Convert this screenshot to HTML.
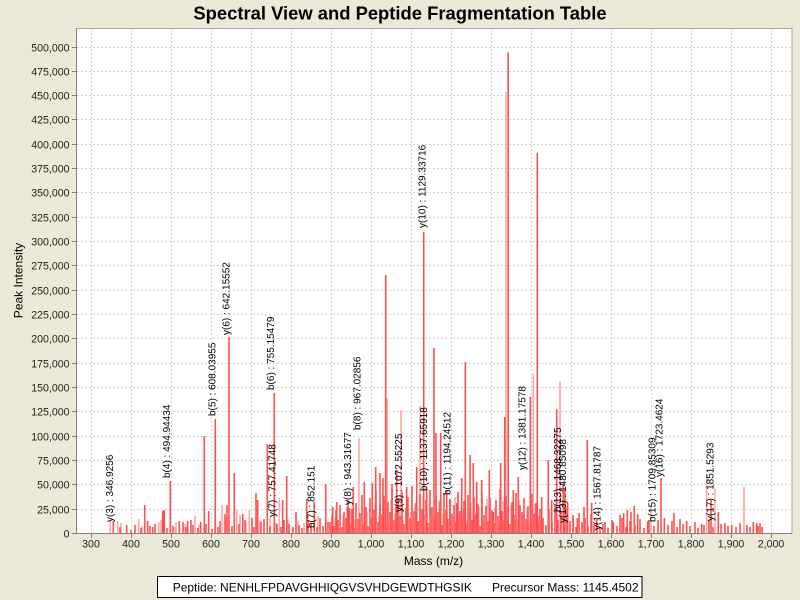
<!DOCTYPE html>
<html><head><meta charset="utf-8"><style>
html,body{margin:0;padding:0;background:#ECE9D8;}
svg{display:block;font-family:"Liberation Sans",Arial,sans-serif;}
</style></head><body>
<svg width="800" height="600" viewBox="0 0 800 600" xmlns="http://www.w3.org/2000/svg">
<rect x="0" y="0" width="800" height="600" fill="#ECE9D8"/>
<text x="400" y="19.5" text-anchor="middle" font-size="18.4" font-weight="bold" fill="#000">Spectral View and Peptide Fragmentation Table</text>
<rect x="76.5" y="28.5" width="715.5" height="505" fill="#fff" stroke="#A8A8A8" stroke-width="1"/>
<g stroke="#D4D4D4" stroke-width="1" stroke-dasharray="2,2" shape-rendering="crispEdges">
<path d="M91.5 29V533M131.5 29V533M171.5 29V533M211.5 29V533M251.5 29V533M291.5 29V533M331.5 29V533M371.5 29V533M411.5 29V533M451.5 29V533M491.5 29V533M531.5 29V533M571.5 29V533M611.5 29V533M651.5 29V533M691.5 29V533M731.5 29V533M771.5 29V533"/>
<path d="M77 509.5H791M77 484.5H791M77 460.5H791M77 436.5H791M77 411.5H791M77 387.5H791M77 363.5H791M77 338.5H791M77 314.5H791M77 290.5H791M77 265.5H791M77 241.5H791M77 217.5H791M77 192.5H791M77 168.5H791M77 144.5H791M77 119.5H791M77 95.5H791M77 71.5H791M77 47.5H791"/>
</g>
<!-- light noise -->
<g stroke="#FFA8A8" stroke-width="1.6" fill="none">
<path d="M121 533.5V523M142 533.5V526M161 533.5V520M175 533.5V527M185 533.5V524M199 533.5V525M215 533.5V521M226 533.5V518M240 533.5V515M246 533.5V522M260 533.5V520M270 533.5V517M276 533.5V523M288 533.5V519M298 533.5V521M304 533.5V523M318 533.5V516M326 533.5V520M331 533.5V525M335 533.5V518M339 533.5V528M343 533.5V515M347 533.5V522M351 533.5V510M355 533.5V520M359 533.5V508M363 533.5V525M367 533.5V512M371 533.5V519M375 533.5V503M379 533.5V516M383 533.5V507M387 533.5V522M391 533.5V500M395 533.5V514M399 533.5V506M403 533.5V520M407 533.5V498M411 533.5V512M415 533.5V505M419 533.5V521M423 533.5V496M427 533.5V513M431 533.5V508M435 533.5V519M439 533.5V500M443 533.5V514M447 533.5V506M451 533.5V523M455 533.5V497M459 533.5V515M463 533.5V509M467 533.5V520M471 533.5V502M475 533.5V516M479 533.5V507M483 533.5V521M487 533.5V499M491 533.5V513M495 533.5V508M499 533.5V522M503 533.5V501M507 533.5V517M511 533.5V505M515 533.5V519M519 533.5V500M523 533.5V514M527 533.5V508M531 533.5V521M535 533.5V504M539 533.5V516"/>
<path d="M110.3 533.5V520M117.7 533.5V521M138.7 533.5V519M158.7 533.5V522M176 533.5V522M195 533.5V516M222 533.5V505M236.7 533.5V510M249.3 533.5V510M279.3 533.5V498M359 533.5V438M387.3 533.5V398M401 533.5V410M420 533.5V406M533.3 533.5V374M560 533.5V381M651 533.5V507M706.7 533.5V474M715 533.5V489M744 533.5V487M506 533.5V92"/>
</g>
<!-- strong noise & peaks -->
<g stroke="#FF5050" stroke-width="1.6" fill="none">
<path d="M120 533.5V527M131 533.5V530M135 533.5V525M141 533.5V528M150 533.5V526M155 533.5V524M167 533.5V528M173 533.5V526M183 533.5V522M186 533.5V527M193 533.5V525M198 533.5V528M206 533.5V524M212 533.5V529M218 533.5V527M232 533.5V526M239 533.5V524M245 533.5V520M252 533.5V518M254 533.5V527M261 533.5V522M264 533.5V519M270 533.5V526M277 533.5V524M281 533.5V527M284 533.5V520M289 533.5V524M293 533.5V527M299 533.5V525M302 533.5V528M308 533.5V520M311 533.5V524M317 533.5V527M320 533.5V518M323 533.5V526M328 533.5V522"/>
<path d="M330 533.5V522M332 533.5V515M334 533.5V526M336 533.5V510M338 533.5V520M340 533.5V505M342 533.5V527M344 533.5V512M346 533.5V518M348 533.5V500M350 533.5V524M352 533.5V509M354 533.5V528M356 533.5V503M358 533.5V519M360 533.5V513M362 533.5V495M364 533.5V523M366 533.5V507M368 533.5V526M370 533.5V498M372 533.5V517M374 533.5V510M376 533.5V491M378 533.5V522M380 533.5V504M382 533.5V514M384 533.5V496M386 533.5V525M388 533.5V502M390 533.5V512M392 533.5V489M394 533.5V520M396 533.5V506M398 533.5V499M400 533.5V516M402 533.5V492M404 533.5V524M406 533.5V508M408 533.5V497M410 533.5V518M412 533.5V486M414 533.5V511M416 533.5V503M418 533.5V521M420 533.5V494M422 533.5V509M424 533.5V515M426 533.5V500M428 533.5V523M430 533.5V490M432 533.5V507M434 533.5V518M436 533.5V496M438 533.5V512M440 533.5V502M442 533.5V525M444 533.5V493M446 533.5V510M448 533.5V519M450 533.5V499M452 533.5V514M454 533.5V505M456 533.5V522M458 533.5V492M460 533.5V511M462 533.5V517M464 533.5V501M466 533.5V524M468 533.5V495M470 533.5V508M472 533.5V520M474 533.5V497M476 533.5V513M478 533.5V504M480 533.5V526M482 533.5V494M484 533.5V515M486 533.5V506M488 533.5V521M490 533.5V498M492 533.5V510M494 533.5V523M496 533.5V500M498 533.5V516M500 533.5V489M502 533.5V511M504 533.5V520M506 533.5V496M508 533.5V507M510 533.5V524M512 533.5V502M514 533.5V515M516 533.5V493M518 533.5V521M520 533.5V505M522 533.5V512M524 533.5V498M526 533.5V519M528 533.5V506M530 533.5V525M532 533.5V494M534 533.5V514M536 533.5V503M538 533.5V521M540 533.5V509"/>
<path d="M543 533.5V518M546 533.5V525M549 533.5V510M552 533.5V522M555 533.5V505M558 533.5V520M561 533.5V512M564 533.5V526M567 533.5V508M570 533.5V521M573 533.5V515M576 533.5V527M579 533.5V513M582 533.5V522M585 533.5V518M588 533.5V526M591 533.5V514M594 533.5V524M597 533.5V519M600 533.5V527M603 533.5V524M608 533.5V528M612 533.5V520M617 533.5V526M622 533.5V518M626 533.5V527M630 533.5V521M635 533.5V525M640 533.5V519M644 533.5V528M649 533.5V522M654 533.5V526M658 533.5V520M668 533.5V525M672 533.5V521M677 533.5V527M683 533.5V524M690 533.5V526M695 533.5V522M698 533.5V528M704 533.5V525M709 533.5V520M713 533.5V527M721 533.5V524M728 533.5V526M736 533.5V527M740 533.5V523M747 533.5V525M758 533.5V526M762 533.5V527"/>
<path d="M113.3 533.5V521M126.7 533.5V525M144.7 533.5V505M147.7 533.5V521M152.7 533.5V527M162.7 533.5V511M164.3 533.5V510M170.3 533.5V481M179.3 533.5V521M187.7 533.5V521M191 533.5V520M200.7 533.5V522M204.3 533.5V436M208.7 533.5V511M215.3 533.5V419M220 533.5V521M225 533.5V514M227 533.5V505M229 533.5V337M234.3 533.5V473M242.7 533.5V514M256 533.5V493M257.7 533.5V500M267.3 533.5V444M274.3 533.5V393M282.7 533.5V500M286.7 533.5V476M296 533.5V512M306.7 533.5V499M314.3 533.5V502M325.7 533.5V484M332.7 533.5V507M336.7 533.5V502M347.3 533.5V507M349.3 533.5V508M353.3 533.5V487M364.3 533.5V482M372.3 533.5V483M375.7 533.5V467M380 533.5V473M383 533.5V478M385.7 533.5V275M392 533.5V484M396.7 533.5V470M406.7 533.5V487M416.7 533.5V467M423.7 533.5V231.7M426.7 533.5V487M434 533.5V348M436 533.5V433M440.7 533.5V433M446.7 533.5V490M450 533.5V499M456.7 533.5V503M461.7 533.5V478M465.3 533.5V362M470 533.5V455M473.3 533.5V463M476.7 533.5V482M481.7 533.5V480M489.3 533.5V470M493.3 533.5V512M500.7 533.5V463M504.7 533.5V417M508.2 533.5V52.3M513.3 533.5V490M518.3 533.5V477M530.3 533.5V396.7M537.3 533.5V152.7M541.7 533.5V497M548.3 533.5V460M551.7 533.5V500M556.7 533.5V409M563.3 533.5V483M565 533.5V490M567.7 533.5V503M573.3 533.5V517M577.3 533.5V518M584 533.5V507M587.3 533.5V440M591.7 533.5V503M596.7 533.5V521M605 533.5V522M613.3 533.5V522M620 533.5V515M623.7 533.5V513M627.3 533.5V510M631 533.5V512M634.3 533.5V506M637.7 533.5V514M647.7 533.5V521M661 533.5V478M664.3 533.5V518M674 533.5V513M680 533.5V519M686.7 533.5V521M701.7 533.5V524M711 533.5V500M718.3 533.5V512M725 533.5V523M731.7 533.5V525M750 533.5V527M753.3 533.5V522M756.7 533.5V523M760 533.5V523"/>
</g>
<!-- axes -->
<g stroke="#808080" stroke-width="1" shape-rendering="crispEdges">
<path d="M76.5 28V534M76 533.5H792"/>
<path d="M72 47.5H76M72 71.5H76M72 95.5H76M72 119.5H76M72 144.5H76M72 168.5H76M72 192.5H76M72 217.5H76M72 241.5H76M72 265.5H76M72 290.5H76M72 314.5H76M72 338.5H76M72 363.5H76M72 387.5H76M72 411.5H76M72 436.5H76M72 460.5H76M72 484.5H76M72 509.5H76M72 533.5H76"/>
<path d="M91.5 534V538M131.5 534V538M171.5 534V538M211.5 534V538M251.5 534V538M291.5 534V538M331.5 534V538M371.5 534V538M411.5 534V538M451.5 534V538M491.5 534V538M531.5 534V538M571.5 534V538M611.5 534V538M651.5 534V538M691.5 534V538M731.5 534V538M771.5 534V538"/>
</g>
<g font-size="10.6" fill="#222" text-anchor="end">
<text x="69.5" y="51.5">500,000</text>
<text x="69.5" y="75.5">475,000</text>
<text x="69.5" y="99.5">450,000</text>
<text x="69.5" y="123.5">425,000</text>
<text x="69.5" y="148.5">400,000</text>
<text x="69.5" y="172.5">375,000</text>
<text x="69.5" y="196.5">350,000</text>
<text x="69.5" y="221.5">325,000</text>
<text x="69.5" y="245.5">300,000</text>
<text x="69.5" y="269.5">275,000</text>
<text x="69.5" y="294.5">250,000</text>
<text x="69.5" y="318.5">225,000</text>
<text x="69.5" y="342.5">200,000</text>
<text x="69.5" y="367.5">175,000</text>
<text x="69.5" y="391.5">150,000</text>
<text x="69.5" y="415.5">125,000</text>
<text x="69.5" y="440.5">100,000</text>
<text x="69.5" y="464.5">75,000</text>
<text x="69.5" y="488.5">50,000</text>
<text x="69.5" y="513.5">25,000</text>
<text x="69.5" y="537.5">0</text>
</g>
<g font-size="10.6" fill="#222" text-anchor="middle">
<text x="91" y="547.5">300</text>
<text x="131" y="547.5">400</text>
<text x="171" y="547.5">500</text>
<text x="211" y="547.5">600</text>
<text x="251" y="547.5">700</text>
<text x="291" y="547.5">800</text>
<text x="331" y="547.5">900</text>
<text x="371" y="547.5">1,000</text>
<text x="411" y="547.5">1,100</text>
<text x="451" y="547.5">1,200</text>
<text x="491" y="547.5">1,300</text>
<text x="531" y="547.5">1,400</text>
<text x="571" y="547.5">1,500</text>
<text x="611" y="547.5">1,600</text>
<text x="651" y="547.5">1,700</text>
<text x="691" y="547.5">1,800</text>
<text x="731" y="547.5">1,900</text>
<text x="771" y="547.5">2,000</text>
</g>
<text x="433.5" y="565" font-size="12" text-anchor="middle" fill="#000">Mass (m/z)</text>
<text transform="translate(22.5,280.5) rotate(-90)" font-size="12" text-anchor="middle" fill="#000">Peak Intensity</text>
<!-- peak labels -->
<g font-size="10" fill="#000">
<text transform="translate(113,522) rotate(-90)">y(3) : 346.9256</text>
<text transform="translate(170,478) rotate(-90)">b(4) : 494.94434</text>
<text transform="translate(215.6,416) rotate(-90)">b(5) : 608.03955</text>
<text transform="translate(229.6,335) rotate(-90)">y(6) : 642.15552</text>
<text transform="translate(274,390) rotate(-90)">b(6) : 755.15479</text>
<text transform="translate(275.6,517) rotate(-90)">y(7) : 757.41748</text>
<text transform="translate(314.3,528) rotate(-90)">b(7) : 852.151</text>
<text transform="translate(351,505) rotate(-90)">y(8) : 943.31677</text>
<text transform="translate(360.3,430) rotate(-90)">b(8) : 967.02856</text>
<text transform="translate(402,512) rotate(-90)">y(9) : 1072.55225</text>
<text transform="translate(427,491) rotate(-90)">b(10) : 1137.65918</text>
<text transform="translate(425.3,228) rotate(-90)">y(10) : 1129.33716</text>
<text transform="translate(450.3,495) rotate(-90)">b(11) : 1194.24512</text>
<text transform="translate(525.3,470) rotate(-90)">y(12) : 1381.17578</text>
<text transform="translate(561,512) rotate(-90)">b(13) : 1468.32275</text>
<text transform="translate(566,523) rotate(-90)">y(13) : 1480.85098</text>
<text transform="translate(600.3,530) rotate(-90)">y(14) : 1567.81787</text>
<text transform="translate(655.3,522) rotate(-90)">b(15) : 1709.85309</text>
<text transform="translate(662.6,477) rotate(-90)">y(16) : 1723.4624</text>
<text transform="translate(713.6,521) rotate(-90)">y(17) : 1851.5293</text>
</g>
<!-- bottom box -->
<rect x="157.5" y="576.5" width="484.5" height="21" fill="#fff" stroke="#000" stroke-width="1"/>
<text x="172.7" y="591.5" font-size="12" fill="#000">Peptide: NENHLFPDAVGHHIQGVSVHDGEWDTHGSIK</text>
<text x="638.5" y="591.5" font-size="12" fill="#000" text-anchor="end">Precursor Mass: 1145.4502</text>
</svg>
</body></html>
